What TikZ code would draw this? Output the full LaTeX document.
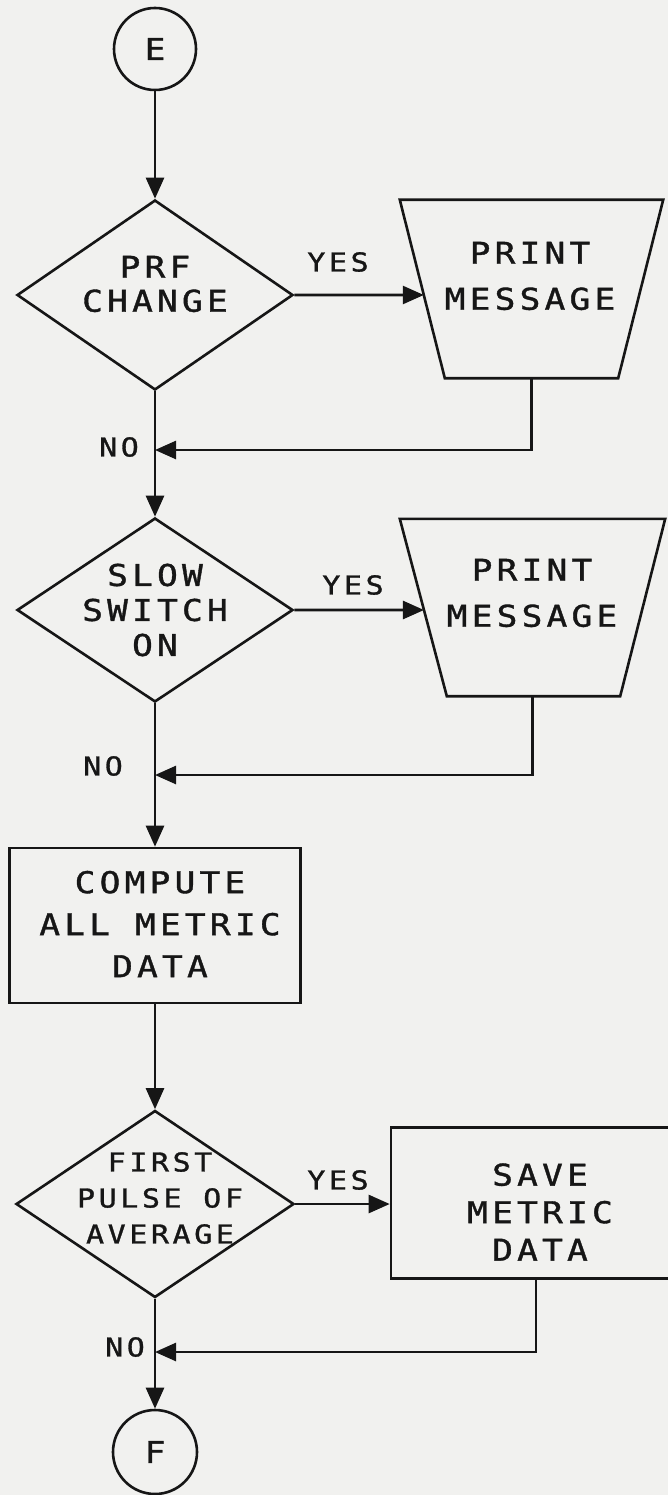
\documentclass[tikz,border=0pt]{standalone}
\usepackage{fontspec}
\usetikzlibrary{arrows.meta,shapes.geometric,calc}
\newfontfamily\lettering{DejaVu Sans Mono}[FakeStretch=1.15,LetterSpace=14,FakeBold=1.2]
\definecolor{paper}{RGB}{241,241,239}
\definecolor{ink}{RGB}{22,22,22}
\begin{document}
\begin{tikzpicture}[x=1pt,y=-1pt,
  ln/.style={draw=ink, line width=2.6pt},
  arr/.style={ln, -{Triangle[length=21pt,width=18pt]}},
  conn/.style={circle, draw=ink, line width=2.6pt, minimum size=#1, inner sep=0pt},
  dec/.style={diamond, draw=ink, line width=2.6pt, inner sep=0pt},
  dispbox/.style={rectangle, inner sep=0pt},
  displine/.style={ln, line join=miter},
  proc/.style={rectangle, draw=ink, line width=2.6pt, inner sep=0pt},
  txt/.style={align=center, inner sep=0pt, text=ink, font=\lettering\fontsize{30}{#1}\selectfont},
  txt/.default=35,
  stxt/.style={align=center, inner sep=0pt, text=ink, font=\lettering\fontsize{26}{#1}\selectfont},
  stxt/.default=36
]
\fill[paper] (0,0) rectangle (668,1495);
\useasboundingbox (0,0) rectangle (668,1495);

% shapes
\node[conn=82pt] (E) at (155,49) {};
\node[txt] (tE) at (E) {E};
\node[dec, minimum width=276pt, minimum height=190pt] (d1) at (155,295) {};
\node[txt=34] (td1) at (155,284) {PRF\\CHANGE};
\node[dispbox, minimum width=263pt, minimum height=178pt] (p1) at (531.5,289) {};
\coordinate (p1bl) at ($(p1.south west)+(45,0)$);
\coordinate (p1br) at ($(p1.south east)+(-45,0)$);
\draw[displine] (p1.north west) -- (p1.north east) -- (p1br) -- (p1bl) -- cycle;
\node[txt=46] (tp1) at (530,276) {PRINT\\MESSAGE};

\node[dec, minimum width=276pt, minimum height=184pt] (d2) at (155,610) {};
\node[txt=35] (td2) at (155,610) {SLOW\\SWITCH\\ON};
\node[dispbox, minimum width=265pt, minimum height=177pt] (p2) at (532.5,607.5) {};
\coordinate (p2bl) at ($(p2.south west)+(47,0)$);
\coordinate (p2br) at ($(p2.south east)+(-45,0)$);
\draw[displine] (p2.north west) -- (p2.north east) -- (p2br) -- (p2bl) -- cycle;
\node[txt=46] (tp2) at (532,593) {PRINT\\MESSAGE};

\node[proc, minimum width=291pt, minimum height=155pt] (cm) at (155,925.5) {};
\node[txt=42] (tcm) at (160,924) {COMPUTE\\ALL METRIC\\DATA};

\node[dec, minimum width=278pt, minimum height=187pt] (d3) at (155,1204) {};
\node[stxt=36] (td3) at (160,1198) {FIRST\\PULSE OF\\AVERAGE};
\node[proc, minimum width=294pt, minimum height=151pt] (sv) at (538,1203) {};
\node[txt=37.5] (tsv) at (540,1212) {SAVE\\METRIC\\DATA};

\node[conn=84pt] (F) at (155,1452) {};
\node[txt] (tF) at (F) {F};

% labels
\node[stxt] (y1) at (338,262) {YES};
\node[stxt] (y2) at (353,585) {YES};
\node[stxt] (y3) at (338,1180) {YES};
\node[stxt] (n1) at (119,447) {NO};
\node[stxt] (n2) at (103,766) {NO};
\node[stxt] (n3) at (125,1347) {NO};

% merge points and entry points
\coordinate (m1) at (155,450);
\coordinate (m2) at (155,775);
\coordinate (m3) at (155,1352);
\coordinate (r1) at (d1.east -| p1.east);
\coordinate (r2) at (d2.east -| p2.east);
\coordinate (in1) at (intersection of p1.north west--p1bl and d1.east--r1);
\coordinate (in2) at (intersection of p2.north west--p2bl and d2.east--r2);

% connectors
\draw[arr] (E) -- (d1.north);
\draw[arr] (d1.east) -- (in1);
\draw[arr] (p1.south) |- (m1);
\draw[ln] (d1.south) -- (m1);
\draw[arr] (m1) -- (d2.north);
\draw[arr] (d2.east) -- (in2);
\draw[arr] (p2.south) |- (m2);
\draw[ln] (d2.south) -- (m2);
\draw[arr] (m2) -- (cm.north);
\draw[arr] (cm.south) -- (d3.north);
\draw[arr] (d3.east) -- (d3.east -| sv.west);
\draw[arr] ([xshift=-2pt]sv.south) |- (m3);
\draw[ln] (d3.south) -- (m3);
\draw[arr] (m3) -- (F.north);
\end{tikzpicture}
\end{document}
